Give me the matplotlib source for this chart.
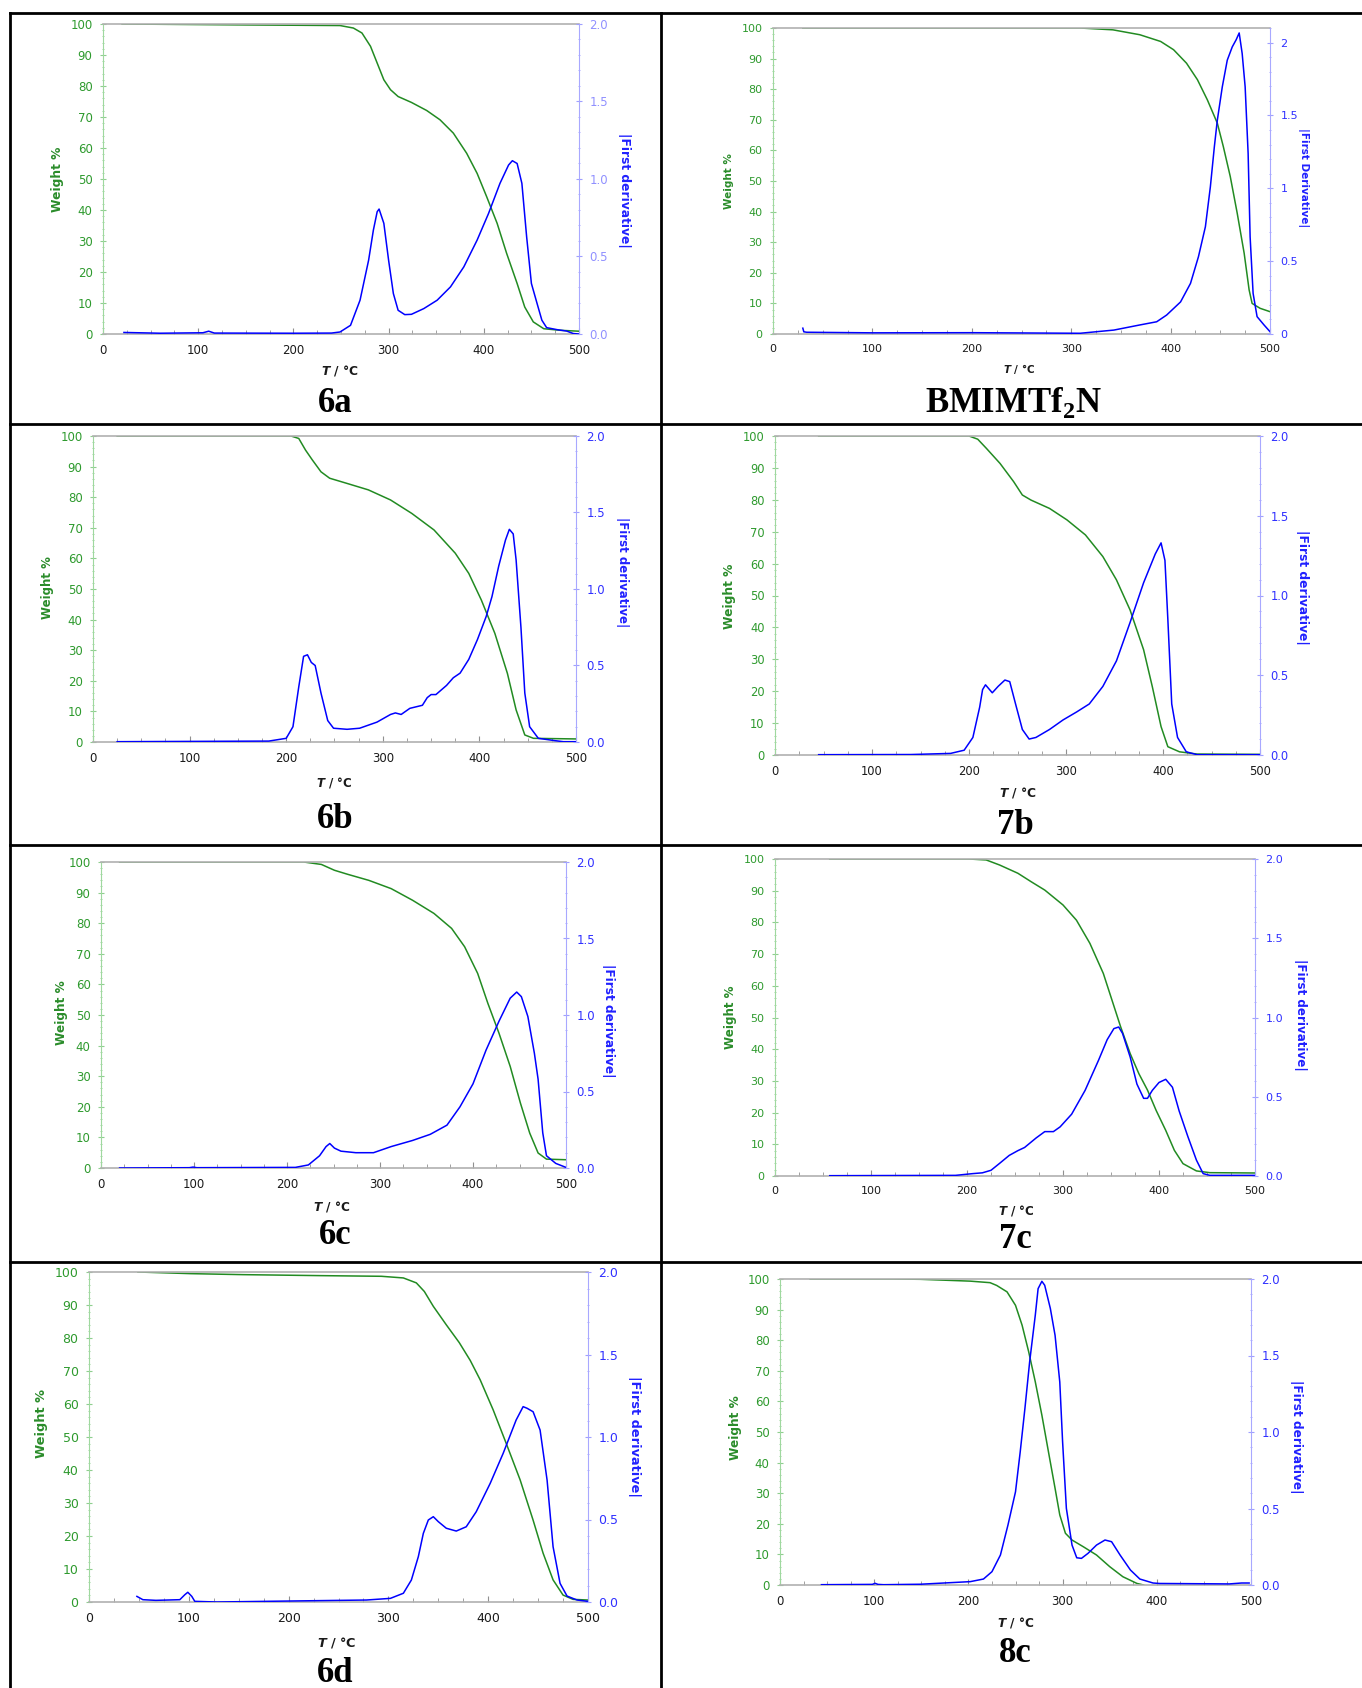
import numpy as np
import matplotlib
matplotlib.use('Agg')
import matplotlib.pyplot as plt
from matplotlib.lines import Line2D
from matplotlib.ticker import MultipleLocator, FuncFormatter

plt.rcParams['font.family'] = ['DejaVu Sans']
plt.rcParams['mathtext.fontset'] = 'custom'
plt.rcParams['mathtext.bf'] = 'Liberation Serif:bold'
plt.rcParams['mathtext.it'] = 'DejaVu Sans:italic:bold'
plt.rcParams['mathtext.rm'] = 'DejaVu Sans:bold'

# ---- 6a ----
t_6a_w = [20, 150, 249, 263, 272, 281, 288, 295, 302, 310, 324, 340, 354, 368, 382, 393, 403,
          414, 424, 435, 443, 452, 463, 480, 500]
w_6a = [100, 99.7, 99.5, 98.7, 97.1, 92.8, 87.4, 82, 78.8, 76.6, 74.7, 72.1, 69.1, 64.8, 58.3,
        51.8, 44.3, 35.7, 26, 16.3, 8.7, 3.9, 1.7, 1.2, 0.9]
t_6a_d = [22, 60, 105, 111, 117, 200, 240, 249, 260, 270, 279, 284, 288, 290, 295, 300, 305, 310,
          317, 324, 337, 351, 365, 379, 393, 405, 417, 426, 430, 435, 440, 445, 450, 456, 461, 466,
          477, 487, 494, 500]
d_6a = [0.01, 0.005, 0.008, 0.018, 0.006, 0.005, 0.006, 0.013, 0.056, 0.218, 0.476, 0.67, 0.789,
        0.806, 0.714, 0.476, 0.261, 0.153, 0.125, 0.127, 0.164, 0.218, 0.304, 0.433, 0.606, 0.778,
        0.972, 1.09, 1.118, 1.10, 0.972, 0.627, 0.326, 0.196, 0.089, 0.041, 0.028, 0.019, 0.003,
        0.0]

# ---- BMIMTf2N ----
t_bm_w = [30, 200, 309, 342, 369, 390, 403, 416, 427, 437, 447, 453, 460, 467, 474, 479, 482,
          490, 500]
w_bm = [100, 100, 100, 99.4, 97.8, 95.6, 92.9, 88.5, 83.1, 76.5, 68.9, 61.3, 51.5, 39.5, 26.4,
        14.4, 10, 8.4, 7.3]
t_bm_d = [30, 31, 34, 100, 201, 309, 343, 369, 386, 396, 410, 420, 428, 435, 440, 444, 447, 452,
          457, 462, 466, 469, 472, 475, 478, 480, 483, 487, 494, 500]
d_bm = [0.04, 0.015, 0.012, 0.008, 0.009, 0.005, 0.027, 0.062, 0.084, 0.13, 0.22, 0.347, 0.53,
        0.736, 1.01, 1.284, 1.467, 1.696, 1.879, 1.97, 2.02, 2.066, 1.925, 1.696, 1.239, 0.667,
        0.279, 0.119, 0.062, 0.016]

# ---- 6b ----
t_6b_w = [25, 205, 213, 220, 227, 236, 245, 263, 285, 308, 330, 353, 375, 389, 402, 416, 429,
          438, 447, 456, 500]
w_6b = [100, 100, 99.2, 95.4, 92.2, 88.3, 86.2, 84.5, 82.4, 79.1, 74.7, 69.3, 61.7, 55.1, 46.4,
        35.5, 22.4, 10.5, 2.3, 1.2, 1.0]
t_6b_d = [25, 182, 200, 207, 213, 218, 222, 226, 230, 236, 243, 249, 263, 276, 294, 308, 313,
          319, 328, 341, 346, 350, 355, 366, 373, 380, 389, 398, 407, 413, 420, 427, 431, 435,
          438, 443, 447, 452, 461, 478, 487, 500]
d_6b = [0.002, 0.006, 0.024, 0.10, 0.36, 0.56, 0.57, 0.52, 0.50, 0.32, 0.14, 0.09, 0.083, 0.09,
        0.13, 0.18, 0.19, 0.18, 0.22, 0.24, 0.29, 0.31, 0.31, 0.37, 0.42, 0.45, 0.54, 0.67, 0.82,
        0.95, 1.15, 1.32, 1.39, 1.36, 1.19, 0.75, 0.32, 0.10, 0.024, 0.009, 0.002, 0.002]

# ---- 7b ----
t_7b_w = [45, 200, 209, 218, 232, 246, 255, 264, 283, 301, 320, 338, 352, 366, 380, 389, 398,
          405, 417, 435, 500]
w_7b = [100, 100, 99, 96.1, 91.4, 85.7, 81.5, 79.9, 77.3, 73.7, 69, 62.2, 54.9, 45.5, 33, 21.4,
        8.9, 2.6, 1.0, 0.3, 0.2]
t_7b_d = [45, 140, 181, 195, 204, 211, 214, 217, 224, 230, 237, 242, 248, 255, 262, 269, 283,
          297, 311, 324, 338, 352, 366, 380, 392, 398, 402, 405, 409, 415, 424, 435, 500]
d_7b = [0.002, 0.003, 0.01, 0.03, 0.11, 0.30, 0.41, 0.44, 0.39, 0.43, 0.47, 0.46, 0.32, 0.16,
        0.10, 0.11, 0.16, 0.22, 0.27, 0.32, 0.43, 0.59, 0.83, 1.08, 1.26, 1.33, 1.22, 0.85, 0.32,
        0.11, 0.02, 0.002, 0.002]

# ---- 6c ----
t_6c_w = [20, 218, 237, 251, 265, 288, 312, 335, 358, 377, 391, 405, 416, 428, 440, 451, 461,
          470, 479, 500]
w_6c = [100, 100, 99.2, 97.3, 96, 94, 91.3, 87.5, 83.2, 78.3, 72.3, 63.6, 53.8, 44, 33.2, 21.2,
        11.4, 4.9, 2.9, 2.7]
t_6c_d = [20, 95, 99, 103, 209, 223, 235, 242, 246, 251, 258, 274, 293, 312, 335, 354, 372, 386,
          400, 414, 428, 440, 447, 452, 459, 466, 470, 475, 479, 489, 500]
d_6c = [0.0, 0.002, 0.006, 0.002, 0.004, 0.02, 0.08, 0.14, 0.16, 0.13, 0.11, 0.10, 0.10, 0.14,
        0.18, 0.22, 0.28, 0.40, 0.55, 0.77, 0.96, 1.11, 1.15, 1.12, 0.99, 0.75, 0.58, 0.23, 0.08,
        0.03, 0.004]

# ---- 7c ----
t_7c_w = [57, 202, 220, 234, 253, 267, 281, 300, 314, 328, 342, 351, 360, 370, 379, 388, 397,
          407, 416, 425, 439, 453, 500]
w_7c = [100, 100, 99.7, 98.1, 95.5, 92.8, 90.2, 85.5, 80.7, 73.4, 63.9, 55.5, 47.1, 38.6, 32.3,
        27.1, 20.7, 14.4, 8.1, 3.9, 1.6, 1.05, 0.95]
t_7c_d = [57, 188, 206, 216, 225, 234, 244, 253, 260, 272, 281, 290, 297, 309, 323, 337, 346,
          353, 358, 362, 370, 377, 384, 388, 393, 400, 407, 414, 421, 430, 439, 446, 453, 500]
d_7c = [0.002, 0.004, 0.015, 0.02, 0.036, 0.08, 0.13, 0.16, 0.18, 0.24, 0.28, 0.28, 0.31, 0.39,
        0.54, 0.73, 0.86, 0.93, 0.94, 0.90, 0.75, 0.58, 0.49, 0.49, 0.54, 0.59, 0.61, 0.56, 0.41,
        0.25, 0.10, 0.015, 0.004, 0.004]

# ---- 6d ----
t_6d_w = [49, 102, 154, 232, 293, 315, 328, 336, 345, 358, 371, 382, 392, 405, 418, 432, 445,
          455, 465, 475, 485, 500]
w_6d = [100, 99.5, 99.2, 98.9, 98.7, 98.2, 96.7, 94.1, 89.6, 84, 78.6, 73.2, 67.3, 58.2, 48.1,
        37, 24.8, 14.8, 6.7, 2.1, 0.8, 0.6]
t_6d_d = [48, 54, 67, 91, 96, 99, 103, 106, 128, 202, 278, 302, 315, 323, 330, 335, 340, 345,
          350, 358, 368, 378, 388, 402, 415, 428, 435, 439, 445, 452, 459, 465, 472, 479, 489, 500]
d_6d = [0.034, 0.014, 0.01, 0.014, 0.044, 0.059, 0.034, 0.004, 0.0, 0.006, 0.012, 0.022, 0.053,
        0.133, 0.275, 0.416, 0.497, 0.517, 0.487, 0.447, 0.43, 0.456, 0.547, 0.719, 0.901, 1.103,
        1.184, 1.174, 1.153, 1.042, 0.739, 0.335, 0.113, 0.036, 0.012, 0.004]

# ---- 8c ----
t_8c_w = [32, 120, 149, 202, 223, 230, 241, 250, 257, 264, 271, 278, 285, 292, 297, 303, 310,
          322, 336, 350, 364, 379, 386]
w_8c = [100, 100, 99.9, 99.3, 98.8, 97.9, 95.8, 91.4, 84.9, 76.2, 66.4, 55.5, 43.5, 31.6, 22.9,
        16.9, 14.7, 12.5, 9.8, 6, 2.7, 0.5, 0.0]
t_8c_d = [44, 98, 101, 104, 110, 149, 202, 216, 225, 234, 242, 250, 255, 260, 265, 271, 274,
          278, 281, 287, 292, 297, 300, 304, 310, 315, 320, 327, 336, 345, 352, 361, 372, 382,
          396, 403, 477, 490, 498]
d_8c = [0.002, 0.004, 0.011, 0.004, 0.002, 0.005, 0.022, 0.039, 0.087, 0.196, 0.392, 0.609,
        0.87, 1.154, 1.458, 1.763, 1.937, 1.985, 1.959, 1.807, 1.632, 1.327, 0.936, 0.501, 0.261,
        0.178, 0.174, 0.207, 0.261, 0.294, 0.283, 0.196, 0.098, 0.039, 0.013, 0.01, 0.007,
        0.013, 0.013]

W, H = 1362, 1688
fig = plt.figure(figsize=(W / 100, H / 100), dpi=100)


def fx(x):
    return x / W


def fy(y):
    return 1 - y / H


GREEN = '#228b22'
BLUE = '#0000ff'

# box (l, r, t, b) in px; label positions in px; fs = tick size, lfs = axis label size
panels = [
    dict(name='6a', tw=t_6a_w, w=w_6a, td=t_6a_d, d=d_6a, box=(103, 579, 24, 334), dmax=2.0,
         yl=(58, 179), rl=(624, 190), xl=(340, 371), cap=(335, 403), fs=8.5, lfs=8.8,
         rcol='#9090ff', rlab='|First derivative|'),
    dict(name='BMIMTf$_{\\mathbf{2}}$N', tw=t_bm_w, w=w_bm, td=t_bm_d, d=d_bm,
         box=(773, 1270, 28, 334), dmax=2.1, yl=(729, 181), rl=(1303, 178), xl=(1019, 369),
         cap=(1014, 402), fs=8, lfs=7.5, rcol='#3030ff', rlab='|First Derivative|'),
    dict(name='6b', tw=t_6b_w, w=w_6b, td=t_6b_d, d=d_6b, box=(93, 576, 436, 742), dmax=2.0,
         yl=(47, 588), rl=(622, 572), xl=(334, 782), cap=(335, 820), fs=8.5, lfs=8.5,
         rcol='#3030ff', rlab='|First derivative|'),
    dict(name='7b', tw=t_7b_w, w=w_7b, td=t_7b_d, d=d_7b, box=(775, 1260, 436, 755), dmax=2.0,
         yl=(729, 596), rl=(1302, 587), xl=(1018, 792), cap=(1015, 825), fs=8.3, lfs=8.8,
         rcol='#3030ff', rlab='|First derivative|'),
    dict(name='6c', tw=t_6c_w, w=w_6c, td=t_6c_d, d=d_6c, box=(101, 566, 862, 1168), dmax=2.0,
         yl=(61, 1013), rl=(609, 1021), xl=(332, 1206), cap=(335, 1235), fs=8.5, lfs=8.7,
         rcol='#3030ff', rlab='|First derivative|'),
    dict(name='7c', tw=t_7c_w, w=w_7c, td=t_7c_d, d=d_7c, box=(775, 1255, 859, 1176), dmax=2.0,
         yl=(731, 1017), rl=(1300, 1015), xl=(1016, 1211), cap=(1015, 1240), fs=8, lfs=8.6,
         rcol='#3030ff', rlab='|First derivative|'),
    dict(name='6d', tw=t_6d_w, w=w_6d, td=t_6d_d, d=d_6d, box=(89, 588, 1272, 1602), dmax=2.0,
         yl=(42, 1423), rl=(634, 1436), xl=(337, 1643), cap=(335, 1673), fs=9, lfs=9.3,
         rcol='#3030ff', rlab='|First derivative|'),
    dict(name='8c', tw=t_8c_w, w=w_8c, td=t_8c_d, d=d_8c, box=(780, 1251, 1279, 1585), dmax=2.0,
         yl=(735, 1428), rl=(1296, 1437), xl=(1016, 1623), cap=(1015, 1653), fs=8.5, lfs=8.7,
         rcol='#3030ff', rlab='|First derivative|'),
]

for p in panels:
    l, r, t, b = p['box']
    ax = fig.add_axes([fx(l), fy(b), (r - l) / W, (b - t) / H])
    ax.plot(p['tw'], p['w'], color=GREEN, lw=1.1, zorder=2)
    ax.set_xlim(0, 500)
    ax.set_ylim(0, 100)
    ax2 = ax.twinx()
    ax2.plot(p['td'], p['d'], color=BLUE, lw=1.1)
    ax2.set_ylim(0, p['dmax'])

    for s in ('top', 'bottom'):
        ax.spines[s].set_color('#b0b0b0')
        ax.spines[s].set_linewidth(1.2)
        ax2.spines[s].set_visible(False)
    ax.spines['left'].set_color('#9fd89f')
    ax.spines['right'].set_visible(False)
    ax2.spines['left'].set_visible(False)
    ax2.spines['right'].set_color('#a8a8ff')

    fs = p['fs']
    ax.xaxis.set_major_locator(MultipleLocator(100))
    ax.xaxis.set_minor_locator(MultipleLocator(25))
    ax.tick_params(axis='x', which='both', direction='in', colors='#909090',
                   labelcolor='#1a1a1a', labelsize=fs, pad=7)
    ax.tick_params(axis='x', which='major', length=4)
    ax.tick_params(axis='x', which='minor', length=3)
    ax.yaxis.set_major_locator(MultipleLocator(10))
    ax.yaxis.set_minor_locator(MultipleLocator(2))
    ax.tick_params(axis='y', which='both', direction='inout', colors='#8fcf8f',
                   labelcolor='#2e9a2e', labelsize=fs, pad=5)
    ax.tick_params(axis='y', which='major', length=5)
    ax.tick_params(axis='y', which='minor', length=2)
    ax2.yaxis.set_major_locator(MultipleLocator(0.5))
    ax2.yaxis.set_minor_locator(MultipleLocator(0.1))
    if p['dmax'] > 2.0:
        ax2.yaxis.set_major_formatter(FuncFormatter(lambda v, pos: f'{v:g}'))
    else:
        ax2.yaxis.set_major_formatter(FuncFormatter(lambda v, pos: f'{v:.1f}'))
    ax2.tick_params(axis='y', which='both', direction='inout', colors='#a0a0ff',
                    labelcolor=p['rcol'], labelsize=fs, pad=5)
    ax2.tick_params(axis='y', which='major', length=5)
    ax2.tick_params(axis='y', which='minor', length=2)

    lfs = p['lfs']
    fig.text(fx(p['yl'][0]), fy(p['yl'][1]), 'Weight %', rotation=90, color='#2a8c2a',
             fontweight='bold', fontsize=lfs, ha='center', va='center')
    fig.text(fx(p['rl'][0]), fy(p['rl'][1]), p['rlab'], rotation=270, color='#2020ff',
             fontweight='bold', fontsize=lfs, ha='center', va='center')
    fig.text(fx(p['xl'][0]), fy(p['xl'][1]), '$T$ / °C', color='#1a1a1a',
             fontweight='bold', fontsize=lfs, ha='center', va='center')
    fig.text(fx(p['cap'][0]), fy(p['cap'][1]), p['name'], family='Liberation Serif',
             fontweight='bold', fontsize=25, ha='center', va='center')

# table grid
grid = [
    ((10, 13), (10, H)),
    ((661, 13), (661, H)),
    ((10, 13), (W, 13)),
    ((10, 424), (W, 424)),
    ((10, 845), (W, 845)),
    ((10, 1262), (W, 1262)),
]
for (x0, y0), (x1, y1) in grid:
    fig.add_artist(Line2D([fx(x0), fx(x1)], [fy(y0), fy(y1)], color='black', lw=2.0,
                          transform=fig.transFigure))

fig.savefig('out.png', dpi=100)
